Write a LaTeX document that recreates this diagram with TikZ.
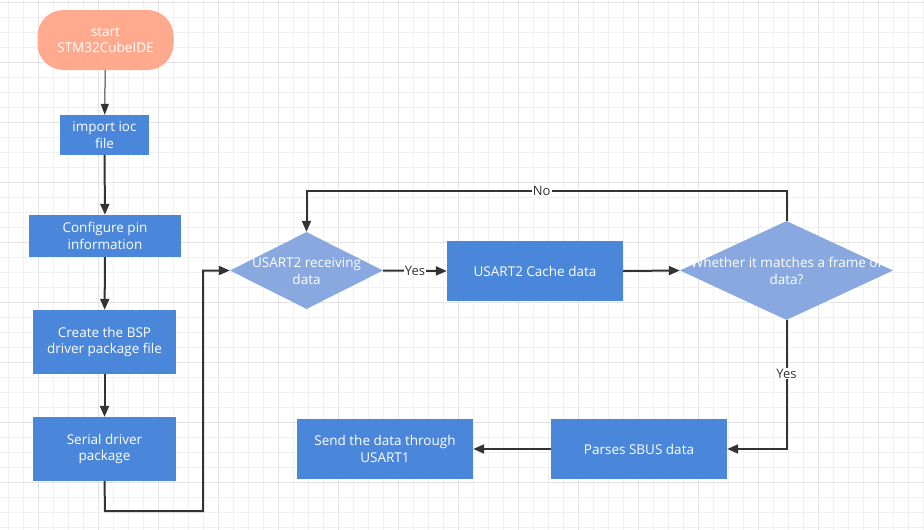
\documentclass[tikz,border=0pt]{standalone}
\usepackage{fontspec}
\setmainfont{Open Sans}
\usetikzlibrary{arrows.meta,shapes.geometric}
\definecolor{boxblue}{HTML}{4A86DA}
\definecolor{diablue}{HTML}{89A8E0}
\definecolor{salmonc}{HTML}{FFAA8E}
\definecolor{linec}{HTML}{333333}
\definecolor{gridminor}{HTML}{F1F1F1}
\definecolor{gridmajor}{HTML}{E3E3E3}
\tikzset{
  boxn/.style={rectangle, fill=boxblue, text=white, align=center, inner sep=0pt,
    font=\fontsize{13.5}{16.5}\selectfont},
  dia/.style={diamond, fill=diablue, inner sep=0pt, aspect=2},
  diatext/.style={text=white, align=center, inner sep=0pt, font=\fontsize{13.5}{16.5}\selectfont},
  conn/.style={draw=linec, line width=2pt, -{Triangle[length=11pt,width=9pt]}},
  thinconn/.style={draw=linec, line width=1pt, -{Triangle[length=11pt,width=8pt]}},
  lbl/.style={fill=white, text=linec, inner sep=1pt, font=\fontsize{13}{15}\selectfont},
}
\begin{document}
\begin{tikzpicture}[x=1pt,y=-1pt]
\fill[white] (0,0) rectangle (924,530);
\useasboundingbox (0,0) rectangle (924,530);
% grid
\foreach \x in {8,23,...,923} \draw[gridminor, line width=0.8pt] (\x,0) -- (\x,530);
\foreach \y in {2,17,...,530} \draw[gridminor, line width=0.8pt] (0,\y) -- (924,\y);
\foreach \x in {38,98,...,923} \draw[gridmajor, line width=0.8pt] (\x,0) -- (\x,530);
\foreach \y in {2,62,...,530} \draw[gridmajor, line width=0.8pt] (0,\y) -- (924,\y);

% nodes
\node[boxn, fill=salmonc, rounded corners=26pt, minimum width=136pt, minimum height=60pt] (start) at (105.5,40) {start\\STM32CubeIDE};
\node[boxn, minimum width=89pt, minimum height=40pt] (imp) at (104.5,135) {import ioc\\file};
\node[boxn, minimum width=152pt, minimum height=42pt] (cfg) at (105,236) {Configure pin\\information};
\node[boxn, minimum width=143pt, minimum height=64pt] (bsp) at (104.5,342) {Create the BSP\\driver package file};
\node[boxn, minimum width=143pt, minimum height=64pt] (ser) at (104.5,449) {Serial driver\\package};

\node[dia, minimum width=153pt, minimum height=77pt] (d1) at (306.5,270.5) {};
\node[diatext] (d1t) at (306.5,271) {USART2 receiving\\data};
\node[boxn, minimum width=176pt, minimum height=60pt] (cache) at (535,271) {USART2 Cache data};
\node[dia, minimum width=213pt, minimum height=99pt] (d2) at (786.5,270.5) {};
\node[diatext] (d2t) at (786.5,271) {Whether it matches a frame of\\data?};

\node[boxn, minimum width=176pt, minimum height=60pt] (parse) at (639,449) {Parses SBUS data};
\node[boxn, minimum width=176pt, minimum height=60pt] (send) at (385,449) {Send the data through\\USART1};

\coordinate (sb) at (105,511);
\coordinate (sr) at (203,511);
\coordinate (nl) at (306.5,191);
\coordinate (nr) at (786.5,191);
\coordinate (yb) at (786.5,449);

% connectors
\draw[thinconn] (start) -- (imp);
\draw[conn] (imp) -- (cfg);
\draw[conn] (cfg) -- (bsp);
\draw[conn] (bsp) -- (ser);
\draw[conn] (ser.south) -- (sb) -- (sr) |- (d1.west);
\draw[conn] (d1.east) -- node[lbl] {Yes} (cache.west);
\draw[conn] (cache.east) -- (d2.west);
\draw[conn] (d2.north) -- (nr) -- node[lbl, pos=0.51] {No} (nl) -- (d1.north);
\draw[conn] (d2.south) -- node[lbl, pos=0.415] {Yes} (yb) -- (parse.east);
\draw[conn] (parse.west) -- (send.east);
\end{tikzpicture}
\end{document}
